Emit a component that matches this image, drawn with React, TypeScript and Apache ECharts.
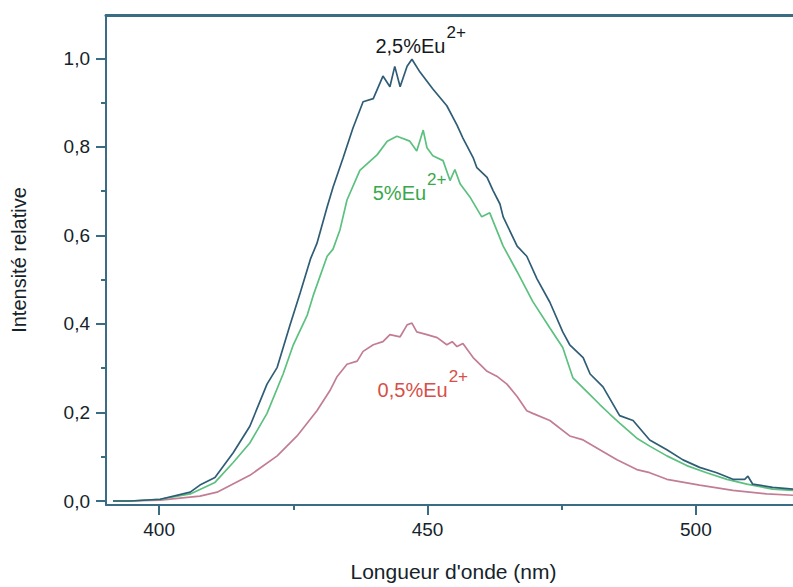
import React, { useEffect, useRef } from "react";
import * as echarts from "echarts";

// Wavelength (nm) and relative intensity for each sample
const nm25 = [391.4, 394.6, 400.2, 405.8, 407.6, 410.4, 413.8, 416.9, 420.1, 422.0, 424.4, 426.3, 428.2, 429.4, 431.3, 432.4, 434.3, 436.1, 438.0, 439.9, 441.7, 443.0, 443.9, 444.9, 446.2, 447.1, 448.6, 451.0, 453.6, 455.5, 456.6, 458.5, 459.2, 461.1, 462.2, 463.5, 464.1, 466.7, 468.5, 470.4, 472.8, 475.2, 476.5, 479.0, 480.3, 482.7, 485.8, 488.3, 491.4, 494.6, 497.6, 500.7, 503.9, 506.9, 509.1, 509.7, 510.6, 514.3, 518.1];
const val25 = [0.0, 0.0, 0.004, 0.02, 0.036, 0.053, 0.109, 0.169, 0.264, 0.302, 0.398, 0.471, 0.547, 0.582, 0.664, 0.709, 0.776, 0.842, 0.902, 0.909, 0.96, 0.936, 0.982, 0.936, 0.982, 0.998, 0.969, 0.931, 0.893, 0.849, 0.82, 0.776, 0.753, 0.731, 0.702, 0.671, 0.642, 0.576, 0.553, 0.502, 0.449, 0.382, 0.353, 0.324, 0.287, 0.258, 0.193, 0.182, 0.138, 0.116, 0.093, 0.076, 0.064, 0.049, 0.049, 0.056, 0.038, 0.031, 0.027];

const nm5 = [391.4, 394.6, 400.2, 405.8, 410.4, 413.8, 416.9, 420.1, 423.1, 425.0, 427.6, 428.7, 431.3, 432.4, 433.7, 435.0, 437.4, 440.6, 442.5, 444.3, 446.7, 448.0, 449.2, 449.9, 451.0, 452.9, 454.2, 455.1, 456.1, 457.9, 460.1, 461.6, 464.1, 466.7, 469.6, 472.8, 475.2, 477.1, 480.3, 482.1, 484.0, 485.8, 489.0, 491.4, 494.6, 498.3, 502.0, 505.8, 509.5, 514.3, 518.1];
const val5 = [0.0, 0.0, 0.004, 0.016, 0.042, 0.087, 0.131, 0.198, 0.287, 0.353, 0.42, 0.464, 0.553, 0.569, 0.613, 0.68, 0.747, 0.782, 0.813, 0.824, 0.813, 0.791, 0.838, 0.798, 0.78, 0.769, 0.724, 0.749, 0.716, 0.687, 0.642, 0.651, 0.576, 0.518, 0.451, 0.391, 0.347, 0.278, 0.24, 0.218, 0.196, 0.176, 0.142, 0.124, 0.102, 0.08, 0.064, 0.049, 0.038, 0.027, 0.024];

const nm05 = [391.4, 394.6, 400.2, 407.6, 410.8, 416.9, 422.0, 425.7, 429.4, 431.8, 433.1, 435.0, 436.9, 438.0, 439.9, 441.7, 443.0, 444.9, 446.2, 447.1, 448.0, 449.9, 451.8, 453.6, 454.6, 455.5, 456.6, 458.5, 461.1, 462.9, 464.8, 466.7, 468.5, 469.6, 472.8, 476.5, 479.0, 482.1, 485.3, 489.0, 491.4, 494.6, 500.7, 506.9, 513.2, 518.1];
const val05 = [0.0, 0.0, 0.002, 0.011, 0.02, 0.058, 0.102, 0.147, 0.204, 0.249, 0.28, 0.309, 0.316, 0.338, 0.353, 0.36, 0.376, 0.371, 0.398, 0.402, 0.382, 0.376, 0.369, 0.353, 0.36, 0.349, 0.356, 0.324, 0.293, 0.282, 0.264, 0.236, 0.204, 0.198, 0.182, 0.147, 0.138, 0.116, 0.093, 0.071, 0.064, 0.049, 0.036, 0.024, 0.016, 0.013];

const xMajorTicks = [400, 450, 500];
const xMinorTicks = [425, 475];
const yMajorTicks = [0, 0.2, 0.4, 0.6, 0.8, 1.0];
const yMinorTicks = [0.1, 0.3, 0.5, 0.7, 0.9];

// Curve annotations
const labelTexts = ["2,5%Eu", "5%Eu", "0,5%Eu"];
const labelSup = ["2+", "2+", "2+"];
const labelNm = [440.3, 439.8, 440.7];
const labelVal = [1.029, 0.696, 0.251];
const supVal = [1.058, 0.727, 0.282];
const labelColors = ["#14191c", "#38a84a", "#d64f48"];

const pairs = (xs: number[], ys: number[]) => xs.map((x, i) => [x, ys[i]]);

const AXIS = "#3a6c84";
const TEXT = "#15232a";
const FONT = "Liberation Sans, Arial, sans-serif";
const XMIN = 390.1;
const XMAX = 518.1;
const YMIN = -0.009;
const YMAX = 1.098;
const MAIN_FS = 20;
const SUP_FS = 17;

function measure(text: string, font: string): number {
  const c = document.createElement("canvas").getContext("2d");
  if (!c) return text.length * 10;
  c.font = font;
  return c.measureText(text).width;
}

export default function App() {
  const ref = useRef<HTMLDivElement>(null);
  useEffect(() => {
    if (!ref.current) return;
    const chart = echarts.init(ref.current, undefined, { renderer: "svg" });
    const fmt = (v: number) => v.toFixed(1).replace(".", ",");
    chart.setOption({
      animation: false,
      backgroundColor: "#ffffff",
      grid: { left: 106, top: 15, right: 0, bottom: 74, containLabel: false },
      xAxis: [
        {
          type: "value",
          min: XMIN,
          max: XMAX,
          position: "bottom",
          name: "Longueur d'onde (nm)",
          nameLocation: "middle",
          nameGap: 56,
          nameTextStyle: { fontSize: 21, color: TEXT, fontFamily: FONT, padding: [0, 0, 0, 8] },
          axisLine: { show: true, onZero: false, lineStyle: { color: AXIS, width: 2 } },
          axisTick: { show: true, customValues: xMajorTicks, length: 10, lineStyle: { color: AXIS, width: 2 } },
          axisLabel: { customValues: xMajorTicks, fontSize: 19, color: TEXT, fontFamily: FONT, margin: 15 },
          splitLine: { show: false },
        },
        {
          type: "value",
          min: XMIN,
          max: XMAX,
          position: "bottom",
          axisLine: { show: false, onZero: false },
          axisTick: { show: true, customValues: xMinorTicks, length: 5, lineStyle: { color: AXIS, width: 2 } },
          axisLabel: { show: false },
          splitLine: { show: false },
        },
        {
          type: "value",
          min: XMIN,
          max: XMAX,
          position: "top",
          axisLine: { show: true, onZero: false, lineStyle: { color: AXIS, width: 3 } },
          axisTick: { show: false },
          axisLabel: { show: false },
          splitLine: { show: false },
        },
      ],
      yAxis: [
        {
          type: "value",
          min: YMIN,
          max: YMAX,
          position: "left",
          name: "Intensité relative",
          nameLocation: "middle",
          nameGap: 77,
          nameRotate: 90,
          nameTextStyle: { fontSize: 20, color: TEXT, fontFamily: FONT },
          axisLine: { show: true, onZero: false, lineStyle: { color: AXIS, width: 2 } },
          axisTick: { show: true, customValues: yMajorTicks, length: 10, lineStyle: { color: AXIS, width: 2 } },
          axisLabel: { customValues: yMajorTicks, formatter: fmt, fontSize: 19, color: TEXT, fontFamily: FONT, margin: 16 },
          splitLine: { show: false },
        },
        {
          type: "value",
          min: YMIN,
          max: YMAX,
          position: "left",
          axisLine: { show: false, onZero: false },
          axisTick: { show: true, customValues: yMinorTicks, length: 5, lineStyle: { color: AXIS, width: 2 } },
          axisLabel: { show: false },
          splitLine: { show: false },
        },
      ],
      series: [
        {
          name: "0,5%Eu2+",
          type: "line",
          xAxisIndex: 0,
          yAxisIndex: 0,
          data: pairs(nm05, val05),
          showSymbol: false,
          lineStyle: { color: "#c27d95", width: 1.7 },
        },
        {
          name: "5%Eu2+",
          type: "line",
          xAxisIndex: 0,
          yAxisIndex: 0,
          data: pairs(nm5, val5),
          showSymbol: false,
          lineStyle: { color: "#5cc07f", width: 1.7 },
        },
        {
          name: "2,5%Eu2+",
          type: "line",
          xAxisIndex: 0,
          yAxisIndex: 0,
          data: pairs(nm25, val25),
          showSymbol: false,
          lineStyle: { color: "#2f5d76", width: 1.7 },
        },
      ],
    });

    const elements: any[] = [];
    const mainFont = `${MAIN_FS}px ${FONT}`;
    const supFont = `${SUP_FS}px ${FONT}`;
    labelTexts.forEach((t, i) => {
      const p = chart.convertToPixel({ xAxisIndex: 0, yAxisIndex: 0 }, [labelNm[i], labelVal[i]]) as number[];
      const s = chart.convertToPixel({ xAxisIndex: 0, yAxisIndex: 0 }, [labelNm[i], supVal[i]]) as number[];
      const w = measure(t, mainFont);
      elements.push({
        type: "text",
        x: p[0],
        y: p[1],
        style: { text: t, fill: labelColors[i], font: mainFont, textAlign: "left", textVerticalAlign: "middle" },
      });
      elements.push({
        type: "text",
        x: p[0] + w + 1,
        y: s[1],
        style: { text: labelSup[i], fill: labelColors[i], font: supFont, textAlign: "left", textVerticalAlign: "middle" },
      });
    });
    chart.setOption({ graphic: elements });

    return () => chart.dispose();
  }, []);
  return (
    <div
      ref={ref}
      style={{ position: "fixed", left: 0, top: 0, width: 793, height: 587, background: "#fff" }}
    />
  );
}
